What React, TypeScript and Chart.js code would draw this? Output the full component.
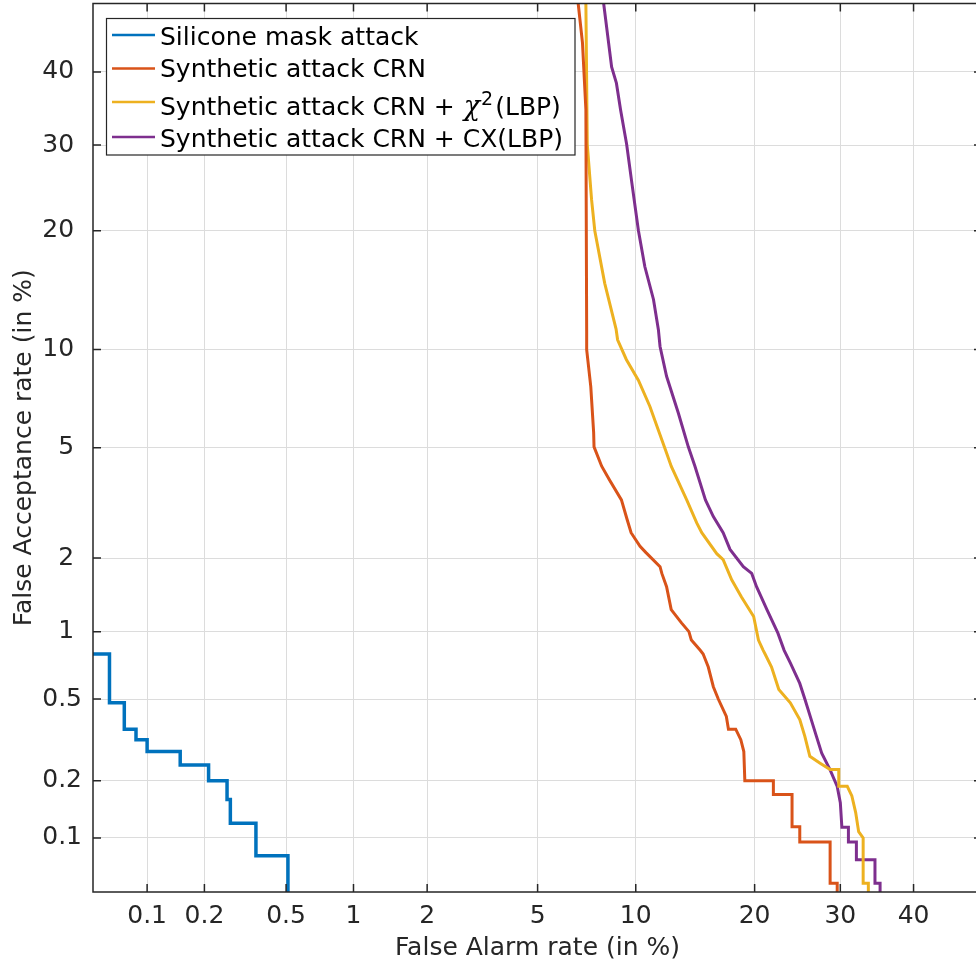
import React, { useEffect, useRef } from 'react';
import { Chart, registerables, Scale } from 'chart.js';

Chart.register(...registerables);

// ---------------- data (values in %) ----------------
const siliconeFA = [0.04, 0.062, 0.075, 0.087, 0.1, 0.15, 0.21, 0.26, 0.27, 0.36, 0.51];
const siliconeFR = [0.8, 0.48, 0.36, 0.32, 0.28, 0.24, 0.2, 0.16, 0.12, 0.08, 0.04];

const crnFA = [6.45, 6.75, 6.96, 7.13, 7.17, 7.17, 7.38, 7.53, 7.55, 7.96, 8.4, 9.1, 9.45, 9.7, 10.28, 10.68, 11.67, 11.8, 12.15, 12.5, 13.3, 13.9, 14.1, 14.85, 15.1, 15.55, 16.0, 16.45, 17.2, 17.4, 18.1, 18.6, 18.9, 19.0, 22.0, 22.0, 24.1, 24.1, 25.0, 25.0, 28.7, 28.7, 29.6, 29.6];
const crnFR = [60, 50, 44.2, 34.7, 11.3, 10, 7.8, 5.6, 5.03, 4.33, 3.88, 3.3, 2.8, 2.5, 2.22, 2.1, 1.85, 1.74, 1.54, 1.24, 1.09, 1.0, 0.92, 0.83, 0.8, 0.7, 0.57, 0.5, 0.414, 0.36, 0.36, 0.32, 0.28, 0.2, 0.2, 0.17, 0.17, 0.115, 0.115, 0.095, 0.095, 0.056, 0.056, 0.04];

const chiFA = [7.1, 7.13, 7.2, 7.42, 7.59, 8.13, 8.78, 8.87, 9.4, 10.17, 10.95, 11.55, 12.15, 12.5, 13.72, 14.55, 14.98, 16.31, 16.9, 17.71, 18.65, 19.9, 20.4, 20.9, 21.1, 21.8, 22.6, 23.9, 25.0, 25.6, 26.2, 27.45, 28.7, 29.8, 29.8, 30.9, 31.5, 32.0, 32.4, 33.0, 33.0, 33.7, 33.7, 34.0, 34.0];
const chiFR = [60, 50, 30.1, 23.4, 20, 15, 11.4, 10.65, 9.37, 8.15, 6.78, 5.7, 4.8, 4.33, 3.3, 2.72, 2.5, 2.08, 1.97, 1.64, 1.4, 1.16, 0.92, 0.83, 0.8, 0.7, 0.553, 0.48, 0.4, 0.332, 0.265, 0.245, 0.2275, 0.2275, 0.187, 0.187, 0.167, 0.137, 0.108, 0.1, 0.056, 0.056, 0.045, 0.045, 0.04];

const cxFA = [7.6, 8.07, 8.52, 8.8, 9.05, 9.42, 9.75, 10.17, 10.6, 11.2, 11.55, 11.67, 12.15, 13.05, 13.85, 14.4, 15.3, 16.0, 16.9, 17.55, 18.85, 19.7, 20.2, 21.3, 22.5, 23.2, 23.9, 25.0, 25.6, 26.2, 27.0, 27.65, 28.7, 29.6, 30.0, 30.2, 31.05, 31.05, 32.1, 32.1, 34.6, 34.6, 35.3, 35.3];
const cxFR = [60, 50, 40.7, 38.4, 34.65, 30.1, 25.3, 20.05, 16.5, 13.65, 11.35, 10.2, 8.37, 6.47, 5.03, 4.33, 3.3, 2.87, 2.5, 2.16, 1.85, 1.74, 1.54, 1.24, 0.985, 0.83, 0.73, 0.59, 0.5, 0.42, 0.332, 0.275, 0.227, 0.187, 0.154, 0.114, 0.114, 0.095, 0.095, 0.076, 0.076, 0.056, 0.056, 0.04];

const seriesLabels = [
  'Silicone mask attack',
  'Synthetic attack CRN',
  'Synthetic attack CRN + χ²(LBP)',
  'Synthetic attack CRN + CX(LBP)',
];
const seriesColors = ['#0072BD', '#D95319', '#EDB120', '#7E2F8E'];

const xTickValues = [0.1, 0.2, 0.5, 1, 2, 5, 10, 20, 30, 40];
const xTickLabels = ['0.1', '0.2', '0.5', '1', '2', '5', '10', '20', '30', '40'];
const yTickValues = [0.1, 0.2, 0.5, 1, 2, 5, 10, 20, 30, 40];
const yTickLabels = ['0.1', '0.2', '0.5', '1 ', '2 ', '5 ', '10 ', '20 ', '30 ', '40 '];
const axisMin = 0.05;
const axisMax = 50;
const xTitle = 'False Alarm rate (in %)';
const yTitle = 'False Acceptance rate (in %)';

// ---------------- normal deviate helpers ----------------
function probit(p: number): number {
  if (p <= 0) return -Infinity;
  if (p >= 1) return Infinity;
  const a = [-3.969683028665376e1, 2.209460984245205e2, -2.759285104469687e2, 1.38357751867269e2, -3.066479806614716e1, 2.506628277459239];
  const b = [-5.447609879822406e1, 1.615858368580409e2, -1.556989798598866e2, 6.680131188771972e1, -1.328068155288572e1];
  const c = [-7.784894002430293e-3, -3.223964580411365e-1, -2.400758277161838, -2.5496710396142, 4.374664141464968, 2.938163982698783];
  const d = [7.784695709041462e-3, 3.224671290700398e-1, 2.445134137142996, 3.754408661907416];
  const pl = 0.02425;
  if (p < pl) {
    const q = Math.sqrt(-2 * Math.log(p));
    return (((((c[0] * q + c[1]) * q + c[2]) * q + c[3]) * q + c[4]) * q + c[5]) / ((((d[0] * q + d[1]) * q + d[2]) * q + d[3]) * q + 1);
  }
  if (p <= 1 - pl) {
    const q = p - 0.5;
    const r = q * q;
    return ((((((a[0] * r + a[1]) * r + a[2]) * r + a[3]) * r + a[4]) * r + a[5]) * q) / (((((b[0] * r + b[1]) * r + b[2]) * r + b[3]) * r + b[4]) * r + 1);
  }
  const q = Math.sqrt(-2 * Math.log(1 - p));
  return -(((((c[0] * q + c[1]) * q + c[2]) * q + c[3]) * q + c[4]) * q + c[5]) / ((((d[0] * q + d[1]) * q + d[2]) * q + d[3]) * q + 1);
}

function normCdf(z: number): number {
  const t = 1 / (1 + 0.3275911 * Math.abs(z) / Math.SQRT2);
  const y = 1 - (((((1.061405429 * t - 1.453152027) * t) + 1.421413741) * t - 0.284496736) * t + 0.254829592) * t * Math.exp(-(z * z) / 2);
  return z >= 0 ? 0.5 * (1 + y) : 0.5 * (1 - y);
}

// ---------------- custom normal-deviate (DET) scale ----------------
class ProbitScale extends (Scale as any) {
  static id = 'probit';
  static defaults = {};
  constructor(cfg: any) {
    super(cfg);
    this._pStart = 0;
    this._pRange = 1;
  }
  parse(raw: any) {
    const v = typeof raw === 'number' ? raw : Number(raw);
    return Number.isFinite(v) ? v : null;
  }
  determineDataLimits() {
    this.min = this.options.min;
    this.max = this.options.max;
  }
  buildTicks() {
    return [];
  }
  configure() {
    super.configure();
    this._pStart = probit(this.min / 100);
    this._pRange = probit(this.max / 100) - this._pStart;
  }
  getLabelForValue(v: number) {
    return String(v);
  }
  getPixelForValue(v: number) {
    if (v === null || v === undefined || isNaN(v)) return NaN;
    return this.getPixelForDecimal((probit(v / 100) - this._pStart) / this._pRange);
  }
  getValueForPixel(px: number) {
    return normCdf(this._pStart + this.getDecimalForPixel(px) * this._pRange) * 100;
  }
  getPixelForTick(i: number) {
    const t = this.ticks;
    if (i < 0 || i > t.length - 1) return null;
    return this.getPixelForValue(t[i].value);
  }
}
Chart.register(ProbitScale as any);

// ---------------- plugins ----------------
const AXIS_COLOR = '#262626';
const FONT_FAMILY = '"DejaVu Sans", sans-serif';

const framePlugin = {
  id: 'matFrame',
  afterDatasetsDraw(chart: any) {
    const { ctx, chartArea: a, scales } = chart;
    ctx.save();
    ctx.strokeStyle = AXIS_COLOR;
    ctx.lineWidth = 1.5;
    ctx.strokeRect(a.left, a.top, a.right - a.left, a.bottom - a.top);
    const L = 8;
    ctx.beginPath();
    scales.x.ticks.forEach((_t: any, i: number) => {
      const x = scales.x.getPixelForTick(i);
      ctx.moveTo(x, a.bottom);
      ctx.lineTo(x, a.bottom - L);
      ctx.moveTo(x, a.top);
      ctx.lineTo(x, a.top + L);
    });
    scales.y.ticks.forEach((_t: any, i: number) => {
      const y = scales.y.getPixelForTick(i);
      ctx.moveTo(a.left, y);
      ctx.lineTo(a.left + L, y);
      ctx.moveTo(a.right, y);
      ctx.lineTo(a.right - L, y);
    });
    ctx.stroke();
    ctx.restore();
  },
};

const legendPlugin = {
  id: 'matLegend',
  afterDraw(chart: any) {
    const ctx = chart.ctx;
    const bx = 106.5, by = 18.5, bw = 468.5, bh = 136.5;
    ctx.save();
    ctx.fillStyle = '#ffffff';
    ctx.fillRect(bx, by, bw, bh);
    ctx.strokeStyle = AXIS_COLOR;
    ctx.lineWidth = 1.2;
    ctx.strokeRect(bx, by, bw, bh);
    const lineY = [35, 68.5, 102, 137];
    const baseY = [44.5, 76.5, 115, 147];
    const font = '25px ' + FONT_FAMILY;
    chart.data.datasets.forEach((ds: any, i: number) => {
      ctx.strokeStyle = ds.borderColor;
      ctx.lineWidth = 2.5;
      ctx.beginPath();
      ctx.moveTo(112, lineY[i]);
      ctx.lineTo(155, lineY[i]);
      ctx.stroke();
      ctx.fillStyle = '#000000';
      ctx.textBaseline = 'alphabetic';
      ctx.textAlign = 'left';
      let x = 160;
      const label: string = ds.label;
      const k = label.indexOf('χ²');
      if (k < 0) {
        ctx.font = font;
        ctx.fillText(label, x, baseY[i]);
      } else {
        const pre = label.slice(0, k);
        const post = label.slice(k + 2);
        ctx.font = font;
        ctx.fillText(pre, x, baseY[i]);
        x += ctx.measureText(pre).width + 1;
        ctx.font = 'italic 27px "DejaVu Serif", serif';
        ctx.fillText('χ', x, baseY[i]);
        x += ctx.measureText('χ').width + 1;
        ctx.font = '19px ' + FONT_FAMILY;
        ctx.fillText('2', x, baseY[i] - 10);
        x += ctx.measureText('2').width + 2;
        ctx.font = font;
        ctx.fillText(post, x, baseY[i]);
      }
    });
    ctx.restore();
  },
};

function pairs(xs: number[], ys: number[]) {
  return xs.map((x, i) => ({ x, y: ys[i] }));
}

export default function App() {
  const ref = useRef<HTMLCanvasElement>(null);
  useEffect(() => {
    const canvas = ref.current;
    if (!canvas) return;
    const tickFont = { family: FONT_FAMILY, size: 25 };
    const chart = new Chart(canvas, {
      type: 'line',
      data: {
        datasets: [
          { label: seriesLabels[0], data: pairs(siliconeFA, siliconeFR), borderColor: seriesColors[0], borderWidth: 3.5, stepped: true, pointRadius: 0, fill: false },
          { label: seriesLabels[1], data: pairs(crnFA, crnFR), borderColor: seriesColors[1], borderWidth: 3, pointRadius: 0, fill: false, tension: 0 },
          { label: seriesLabels[2], data: pairs(chiFA, chiFR), borderColor: seriesColors[2], borderWidth: 3, pointRadius: 0, fill: false, tension: 0 },
          { label: seriesLabels[3], data: pairs(cxFA, cxFR), borderColor: seriesColors[3], borderWidth: 3, pointRadius: 0, fill: false, tension: 0 },
        ],
      } as any,
      options: {
        responsive: false,
        animation: false,
        devicePixelRatio: 1,
        layout: { padding: { top: 3.5, right: 8, left: 0, bottom: 0 } },
        plugins: { legend: { display: false }, tooltip: { enabled: false } },
        scales: {
          x: {
            type: 'probit',
            position: 'bottom',
            min: axisMin,
            max: axisMax,
            afterBuildTicks: (s: any) => { s.ticks = xTickValues.map((v) => ({ value: v })); },
            afterFit: (s: any) => { s.height = 74; s.paddingLeft = 0; s.paddingRight = 0; },
            grid: { color: '#dcdcdc', lineWidth: 1, drawTicks: false },
            border: { display: false },
            ticks: { callback: (_v: any, i: number) => xTickLabels[i], font: tickFont, color: AXIS_COLOR, padding: 9, maxRotation: 0, autoSkip: false },
            title: { display: true, text: xTitle, font: tickFont, color: AXIS_COLOR, padding: { top: 0, bottom: 3 } },
          },
          y: {
            type: 'probit',
            position: 'left',
            min: axisMin,
            max: axisMax,
            afterBuildTicks: (s: any) => { s.ticks = yTickValues.map((v) => ({ value: v })); },
            afterFit: (s: any) => { s.width = 93; s.paddingTop = 0; s.paddingBottom = 0; },
            grid: { color: '#dcdcdc', lineWidth: 1, drawTicks: false },
            border: { display: false },
            ticks: { callback: (_v: any, i: number) => yTickLabels[i], font: tickFont, color: AXIS_COLOR, padding: 11, autoSkip: false },
            title: { display: true, text: yTitle, font: tickFont, color: AXIS_COLOR, padding: { top: 9, bottom: 0 } },
          },
        },
      } as any,
      plugins: [framePlugin, legendPlugin],
    });
    return () => chart.destroy();
  }, []);
  return (
    <div style={{ position: 'fixed', left: 0, top: 0, width: 976, height: 966, overflow: 'hidden', background: '#ffffff' }}>
      <canvas ref={ref} width={990} height={966} style={{ display: 'block', width: '990px', height: '966px' }} />
    </div>
  );
}
